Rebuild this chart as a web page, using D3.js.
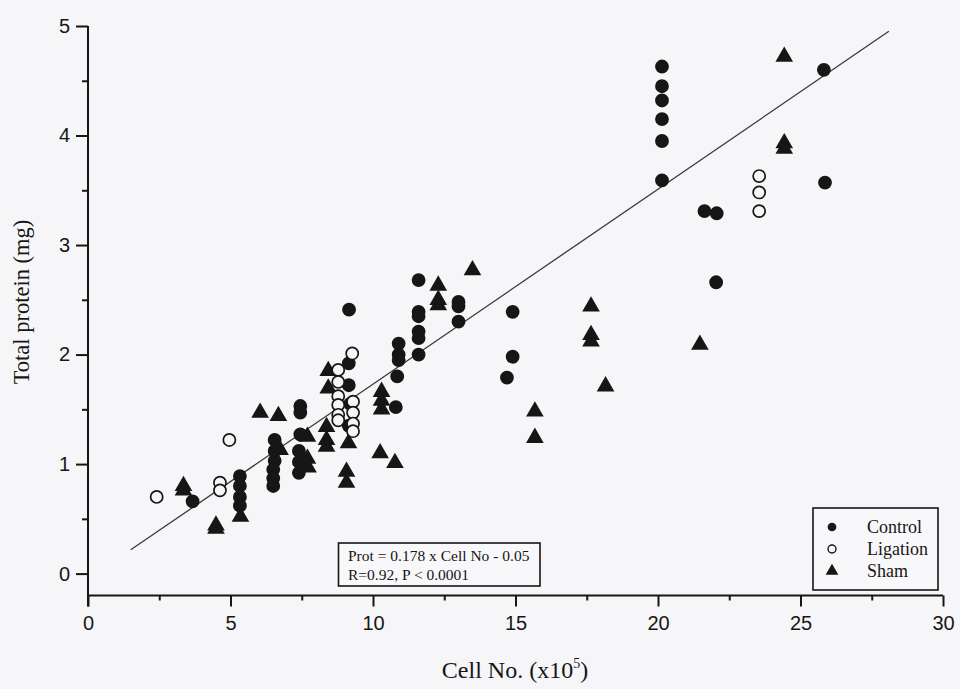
<!DOCTYPE html>
<html>
<head>
<meta charset="utf-8">
<script src="https://cdn.jsdelivr.net/npm/d3@7"></script>
<style>
  html, body { margin: 0; padding: 0; background: #f6f6f8; }
  svg { display: block; }
</style>
</head>
<body>
<script>
// ---------- data ----------
const controlPoints = [
  [3.67, 0.66],
  [5.33, 0.89], [5.33, 0.80], [5.33, 0.70], [5.33, 0.62],
  [6.55, 1.22], [6.55, 1.12], [6.55, 1.03], [6.5, 0.95], [6.5, 0.87], [6.5, 0.80],
  [7.45, 1.53], [7.45, 1.47], [7.45, 1.27], [7.4, 1.12], [7.4, 1.02], [7.4, 0.92],
  [9.16, 2.41], [9.15, 1.92], [9.15, 1.72], [9.2, 1.55], [9.15, 1.35],
  [10.9, 2.10], [10.9, 2.00], [10.9, 1.95], [10.85, 1.80], [10.8, 1.52],
  [11.6, 2.68], [11.6, 2.39], [11.6, 2.35], [11.6, 2.21], [11.6, 2.15], [11.6, 2.00],
  [13.0, 2.48], [13.0, 2.44], [13.0, 2.30],
  [14.9, 2.39], [14.9, 1.98], [14.7, 1.79],
  [20.14, 4.63], [20.14, 4.45], [20.14, 4.32], [20.14, 4.15], [20.14, 3.95], [20.14, 3.59],
  [21.63, 3.31], [22.06, 3.29], [22.04, 2.66],
  [25.82, 4.60], [25.86, 3.57]
];
const ligationPoints = [
  [2.41, 0.70], [4.63, 0.83], [4.63, 0.76], [4.96, 1.22],
  [8.78, 1.86], [8.78, 1.75], [8.78, 1.62], [8.78, 1.54], [8.78, 1.45], [8.78, 1.40],
  [9.27, 2.01], [9.3, 1.57], [9.3, 1.47], [9.3, 1.37], [9.3, 1.30],
  [23.55, 3.63], [23.55, 3.48], [23.55, 3.31]
];
const shamPoints = [
  [3.35, 0.80], [3.35, 0.76], [4.49, 0.44], [4.49, 0.41], [5.35, 0.52],
  [6.04, 1.47], [6.68, 1.44], [6.74, 1.13],
  [7.7, 1.25], [7.7, 1.05], [7.72, 0.97],
  [8.43, 1.85], [8.43, 1.69], [8.37, 1.34], [8.37, 1.22], [8.37, 1.16],
  [9.14, 1.19], [9.07, 0.93], [9.07, 0.83],
  [10.3, 1.66], [10.3, 1.58], [10.3, 1.50], [10.25, 1.10], [10.77, 1.01],
  [12.29, 2.63], [12.29, 2.50], [12.29, 2.45], [13.49, 2.77],
  [15.68, 1.48], [15.68, 1.24],
  [17.65, 2.44], [17.65, 2.18], [17.65, 2.12], [18.16, 1.71],
  [21.47, 2.09], [24.43, 4.72], [24.43, 3.93], [24.43, 3.88]
];
const seriesNames = ["Control", "Ligation", "Sham"];
const xTicks = [0, 5, 10, 15, 20, 25, 30];
const yTicks = [0, 1, 2, 3, 4, 5];
const regression = { slope: 0.178, intercept: -0.05, xStart: 1.5, xEnd: 28.1 };
const equationLines = ["Prot = 0.178 x Cell No - 0.05", "R=0.92, P < 0.0001"];

// ---------- layout ----------
const W = 960, H = 689;
const ink = "#161616";
const bg = "#f6f6f8";
const serif = "'Liberation Serif', 'Times New Roman', serif";
const svg = d3.select("body").append("svg").attr("width", W).attr("height", H);
svg.append("rect").attr("width", W).attr("height", H).attr("fill", bg);

const x = d3.scaleLinear().domain([0, 30]).range([88, 943]);
const y = d3.scaleLinear().domain([-0.2, 5]).range([595.5, 26]);

// axes
const xAxisY = y(-0.2);
const gx = svg.append("g").attr("transform", `translate(0,${xAxisY})`);
gx.call(d3.axisBottom(x).tickValues(xTicks).tickSize(11).tickSizeOuter(0).tickFormat(d3.format("d")));
const gxm = svg.append("g").attr("transform", `translate(0,${xAxisY})`);
gxm.call(d3.axisBottom(x).tickValues(d3.range(2.5, 30, 5)).tickSize(5).tickSizeOuter(0).tickFormat(""));
gxm.select(".domain").remove();

const gy = svg.append("g").attr("transform", `translate(${x(0)},0)`);
gy.call(d3.axisLeft(y).tickValues(yTicks).tickSize(12).tickSizeOuter(0).tickFormat(d3.format("d")));
const gym = svg.append("g").attr("transform", `translate(${x(0)},0)`);
gym.call(d3.axisLeft(y).tickValues(d3.range(0.5, 5, 1)).tickSize(6).tickSizeOuter(0).tickFormat(""));
gym.select(".domain").remove();

gy.select(".domain").attr("d", `M0,${y(5)}V${xAxisY + 11}`);
gx.select(".domain").attr("d", `M${x(0)},0H${x(30)}`);

svg.selectAll(".domain, .tick line").attr("stroke", ink).attr("stroke-width", 2);
svg.selectAll(".tick text").attr("fill", ink)
  .style("font-family", "'Liberation Sans', Arial, sans-serif").style("font-size", "20px");
gx.selectAll(".tick text").attr("dy", "1.0em");
gy.selectAll(".tick text").attr("dx", "-0.15em");

// axis titles
const xt = svg.append("text").attr("x", 515).attr("y", 678).attr("text-anchor", "middle")
  .style("font-family", serif).style("font-size", "24px").attr("fill", ink);
xt.append("tspan").text("Cell No. (x10");
xt.append("tspan").attr("dy", -10).style("font-size", "14px").text("5");
xt.append("tspan").attr("dy", 10).text(")");
svg.append("text").attr("transform", `translate(29,302) rotate(-90)`).attr("text-anchor", "middle")
  .style("font-family", serif).style("font-size", "22.5px").attr("fill", ink)
  .text("Total protein (mg)");

// regression line
svg.append("line")
  .attr("x1", x(regression.xStart)).attr("y1", y(regression.slope * regression.xStart + regression.intercept))
  .attr("x2", x(regression.xEnd)).attr("y2", y(regression.slope * regression.xEnd + regression.intercept))
  .attr("stroke", "#3a3a3a").attr("stroke-width", 1.3);

// markers
const circleSym = d3.symbol().type(d3.symbolCircle).size(150);
const openSym = d3.symbol().type(d3.symbolCircle).size(115);
const triSym = d3.symbol().type(d3.symbolTriangle).size(135);

svg.append("g").selectAll("path").data(controlPoints).join("path")
  .attr("transform", d => `translate(${x(d[0])},${y(d[1])})`)
  .attr("d", circleSym).attr("fill", ink);
svg.append("g").selectAll("path").data(shamPoints).join("path")
  .attr("transform", d => `translate(${x(d[0])},${y(d[1])})`)
  .attr("d", triSym).attr("fill", ink);
svg.append("g").selectAll("path").data(ligationPoints).join("path")
  .attr("transform", d => `translate(${x(d[0])},${y(d[1])})`)
  .attr("d", openSym).attr("fill", bg).attr("stroke", ink).attr("stroke-width", 1.7);

// equation box
const eq = svg.append("g");
eq.append("rect").attr("x", 338.5).attr("y", 543).attr("width", 201.5).attr("height", 43)
  .attr("fill", "#f8f8fa").attr("stroke", ink).attr("stroke-width", 1.6);
eq.selectAll("text").data(equationLines).join("text")
  .attr("x", 348).attr("y", (d, i) => 561 + i * 18.5)
  .style("font-family", serif).style("font-size", "15.5px")
  .attr("fill", ink).text(d => d);

// legend
const lg = svg.append("g");
lg.append("rect").attr("x", 813).attr("y", 508).attr("width", 125).attr("height", 82)
  .attr("fill", "#f8f8fa").attr("stroke", ink).attr("stroke-width", 1.6);
const legSyms = [
  d3.symbol().type(d3.symbolCircle).size(60),
  d3.symbol().type(d3.symbolCircle).size(50),
  d3.symbol().type(d3.symbolTriangle).size(70)
];
seriesNames.forEach((name, i) => {
  const cy = 527 + i * 22;
  lg.append("path").attr("transform", `translate(832,${cy})`).attr("d", legSyms[i])
    .attr("fill", i === 1 ? "none" : ink).attr("stroke", i === 1 ? ink : "none").attr("stroke-width", 1.4);
  lg.append("text").attr("x", 867).attr("y", cy + 6)
    .style("font-family", serif).style("font-size", "18px")
    .attr("fill", ink).text(name);
});
</script>
</body>
</html>
